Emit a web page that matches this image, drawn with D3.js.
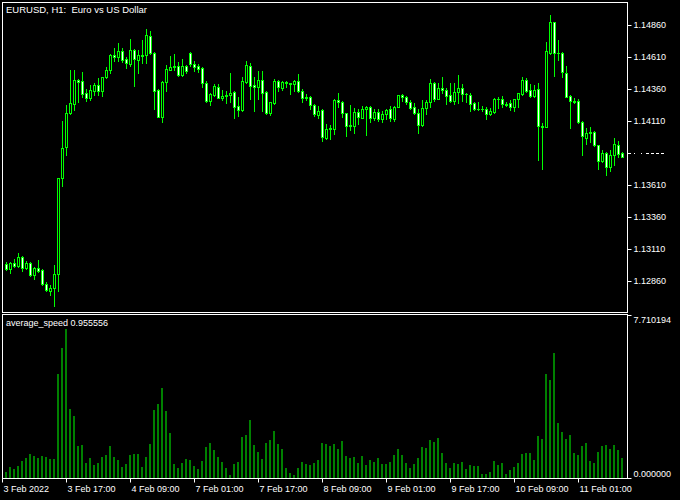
<!DOCTYPE html>
<html>
<head>
<meta charset="utf-8">
<script src="https://cdn.jsdelivr.net/npm/d3@7"></script>
<style>
  html, body { margin: 0; padding: 0; background: #000; }
  svg { display: block; }
  text { white-space: pre; }
</style>
</head>
<body>
<div id="chart"></div>
<script>
// EURUSD H1 bars, 3 Feb 02:00 .. 11 Feb 12:00 (weekend gap after index 45)
const opens = [
  1.12993, 1.12956, 1.12998, 1.12980, 1.13045, 1.12962, 1.12998, 1.12907, 1.12964, 1.12946,
  1.12834, 1.12784, 1.12803, 1.12912, 1.13662, 1.13904, 1.14170, 1.14240, 1.14430, 1.14423,
  1.14326, 1.14292, 1.14347, 1.14389, 1.14347, 1.14451, 1.14511, 1.14626, 1.14613, 1.14657,
  1.14592, 1.14555, 1.14665, 1.14587, 1.14626, 1.14626, 1.14774, 1.14644, 1.14352, 1.14144,
  1.14412, 1.14511, 1.14529, 1.14540, 1.14469, 1.14540, 1.14644, 1.14555, 1.14540, 1.14524,
  1.14410, 1.14266, 1.14313, 1.14373, 1.14292, 1.14305, 1.14313, 1.14337, 1.14227, 1.14196,
  1.14417, 1.14540, 1.14391, 1.14373, 1.14430, 1.14337, 1.14175, 1.14253, 1.14425, 1.14368,
  1.14415, 1.14404, 1.14402, 1.14423, 1.14347, 1.14300, 1.14298, 1.14232, 1.14157, 1.14196,
  1.13980, 1.14045, 1.14045, 1.14274, 1.14258, 1.14170, 1.14074, 1.14074, 1.14178, 1.14136,
  1.14201, 1.14217, 1.14136, 1.14178, 1.14123, 1.14162, 1.14201, 1.14123, 1.14222, 1.14313,
  1.14300, 1.14256, 1.14219, 1.14170, 1.14081, 1.14209, 1.14258, 1.14407, 1.14285, 1.14365,
  1.14352, 1.14313, 1.14269, 1.14334, 1.14365, 1.14321, 1.14313, 1.14248, 1.14204, 1.14201,
  1.14201, 1.14162, 1.14183, 1.14282, 1.14279, 1.14245, 1.14248, 1.14217, 1.14279, 1.14321,
  1.14430, 1.14352, 1.14308, 1.14357, 1.14074, 1.14066, 1.14639, 1.14881, 1.14639, 1.14644,
  1.14482, 1.14305, 1.14269, 1.14269, 1.14102, 1.13980, 1.14022, 1.14024, 1.13920, 1.13800,
  1.13857, 1.13753, 1.13842, 1.13923, 1.13863
];
const highs = [
  1.13006, 1.13011, 1.13029, 1.13076, 1.13055, 1.13014, 1.13008, 1.12972, 1.13024, 1.12951,
  1.12852, 1.12826, 1.12982, 1.13662, 1.14113, 1.14232, 1.14508, 1.14508, 1.14441, 1.14493,
  1.14357, 1.14391, 1.14404, 1.14443, 1.14456, 1.14534, 1.14631, 1.14678, 1.14717, 1.14678,
  1.14610, 1.14751, 1.14670, 1.14665, 1.14743, 1.14829, 1.14813, 1.14652, 1.14357, 1.14423,
  1.14548, 1.14618, 1.14634, 1.14574, 1.14592, 1.14548, 1.14652, 1.14579, 1.14553, 1.14534,
  1.14423, 1.14326, 1.14397, 1.14397, 1.14352, 1.14344, 1.14488, 1.14342, 1.14300, 1.14451,
  1.14579, 1.14561, 1.14451, 1.14503, 1.14503, 1.14342, 1.14261, 1.14436, 1.14430, 1.14420,
  1.14423, 1.14410, 1.14428, 1.14477, 1.14357, 1.14318, 1.14305, 1.14243, 1.14227, 1.14204,
  1.14087, 1.14079, 1.14282, 1.14329, 1.14266, 1.14175, 1.14232, 1.14209, 1.14204, 1.14227,
  1.14230, 1.14227, 1.14201, 1.14201, 1.14191, 1.14206, 1.14227, 1.14227, 1.14316, 1.14324,
  1.14305, 1.14274, 1.14248, 1.14204, 1.14274, 1.14274, 1.14438, 1.14412, 1.14404, 1.14454,
  1.14365, 1.14404, 1.14404, 1.14469, 1.14399, 1.14331, 1.14326, 1.14258, 1.14256, 1.14227,
  1.14217, 1.14209, 1.14292, 1.14300, 1.14305, 1.14261, 1.14274, 1.14285, 1.14331, 1.14456,
  1.14443, 1.14397, 1.14391, 1.14410, 1.14097, 1.14730, 1.14938, 1.14886, 1.14743, 1.14652,
  1.14540, 1.14313, 1.14292, 1.14282, 1.14110, 1.14053, 1.14066, 1.14029, 1.13925, 1.13883,
  1.13870, 1.13883, 1.13980, 1.13956, 1.13870
];
const lows = [
  1.12946, 1.12925, 1.12972, 1.12972, 1.12941, 1.12951, 1.12899, 1.12873, 1.12933, 1.12826,
  1.12782, 1.12748, 1.12667, 1.12784, 1.13605, 1.13847, 1.14165, 1.14196, 1.14258, 1.14300,
  1.14269, 1.14274, 1.14313, 1.14313, 1.14308, 1.14443, 1.14482, 1.14576, 1.14579, 1.14568,
  1.14527, 1.14542, 1.14386, 1.14482, 1.14561, 1.14566, 1.14634, 1.14204, 1.14139, 1.14105,
  1.14344, 1.14508, 1.14508, 1.14462, 1.14462, 1.14482, 1.14542, 1.14503, 1.14495, 1.14378,
  1.14258, 1.14235, 1.14305, 1.14287, 1.14274, 1.14248, 1.14261, 1.14136, 1.14152, 1.14191,
  1.14410, 1.14282, 1.14188, 1.14282, 1.14188, 1.14162, 1.14157, 1.14245, 1.14347, 1.14352,
  1.14373, 1.14321, 1.14347, 1.14339, 1.14258, 1.14274, 1.14204, 1.14146, 1.14131, 1.13956,
  1.13972, 1.13969, 1.14008, 1.14217, 1.14144, 1.13995, 1.14040, 1.14019, 1.14087, 1.14131,
  1.14003, 1.14105, 1.14118, 1.14113, 1.14105, 1.14126, 1.14113, 1.14110, 1.14217, 1.14266,
  1.14240, 1.14204, 1.14165, 1.14019, 1.14071, 1.14165, 1.14222, 1.14269, 1.14282, 1.14331,
  1.14243, 1.14261, 1.14243, 1.14248, 1.14269, 1.14261, 1.14191, 1.14196, 1.14196, 1.14188,
  1.14123, 1.14157, 1.14170, 1.14214, 1.14217, 1.14227, 1.14193, 1.14186, 1.14217, 1.14313,
  1.14339, 1.14300, 1.14300, 1.13805, 1.13738, 1.14061, 1.14634, 1.14464, 1.14587, 1.14456,
  1.14295, 1.14058, 1.14253, 1.14097, 1.13844, 1.13930, 1.13949, 1.13917, 1.13738, 1.13790,
  1.13688, 1.13722, 1.13764, 1.13831, 1.13826
];
const closes = [
  1.12956, 1.12998, 1.12980, 1.13045, 1.12964, 1.12998, 1.12907, 1.12964, 1.12941, 1.12834,
  1.12790, 1.12803, 1.12912, 1.13662, 1.13896, 1.14170, 1.14248, 1.14430, 1.14417, 1.14321,
  1.14292, 1.14352, 1.14391, 1.14347, 1.14451, 1.14511, 1.14626, 1.14613, 1.14654, 1.14587,
  1.14561, 1.14665, 1.14592, 1.14626, 1.14618, 1.14782, 1.14639, 1.14347, 1.14144, 1.14417,
  1.14516, 1.14529, 1.14540, 1.14469, 1.14542, 1.14501, 1.14553, 1.14534, 1.14519, 1.14404,
  1.14266, 1.14321, 1.14383, 1.14292, 1.14305, 1.14313, 1.14326, 1.14222, 1.14196, 1.14423,
  1.14548, 1.14386, 1.14373, 1.14430, 1.14331, 1.14175, 1.14256, 1.14425, 1.14373, 1.14415,
  1.14404, 1.14397, 1.14423, 1.14347, 1.14292, 1.14287, 1.14232, 1.14162, 1.14188, 1.13982,
  1.14048, 1.14055, 1.14274, 1.14261, 1.14170, 1.14074, 1.14076, 1.14178, 1.14139, 1.14204,
  1.14219, 1.14136, 1.14178, 1.14123, 1.14165, 1.14196, 1.14131, 1.14222, 1.14311, 1.14295,
  1.14256, 1.14214, 1.14170, 1.14081, 1.14209, 1.14258, 1.14407, 1.14282, 1.14365, 1.14352,
  1.14308, 1.14269, 1.14337, 1.14368, 1.14318, 1.14318, 1.14240, 1.14201, 1.14201, 1.14204,
  1.14162, 1.14188, 1.14282, 1.14285, 1.14240, 1.14238, 1.14217, 1.14279, 1.14326, 1.14430,
  1.14347, 1.14308, 1.14352, 1.14074, 1.14066, 1.14657, 1.14881, 1.14639, 1.14641, 1.14490,
  1.14300, 1.14269, 1.14261, 1.14105, 1.13993, 1.14019, 1.14019, 1.13920, 1.13800, 1.13857,
  1.13748, 1.13844, 1.13930, 1.13852, 1.13831
];
// average_speed indicator, one value per bar
const speed = [
  0.299, 0.535, 0.441, 0.582, 0.818, 0.960, 1.149, 1.054, 0.960, 1.054,
  1.007, 0.913, 0.913, 4.925, 6.152, 7.049, 3.273, 2.942, 1.526, 1.574,
  0.724, 0.960, 0.629, 0.724, 1.007, 1.101, 1.526, 1.007, 0.865, 0.535,
  0.677, 1.101, 1.149, 1.149, 0.535, 1.007, 1.621, 3.226, 3.509, 4.264,
  3.178, 2.140, 0.677, 0.488, 0.724, 0.913, 0.865, 0.582, 0.441, 0.818,
  1.479, 1.668, 1.337, 1.007, 0.771, 0.488, 0.157, 0.677, 0.771, 1.951,
  2.046, 2.754, 1.574, 1.243, 0.913, 1.668, 1.810, 2.234, 1.621, 1.385,
  0.488, 0.252, 0.157, 0.488, 0.771, 0.677, 0.629, 0.724, 0.865, 1.668,
  1.621, 1.526, 1.621, 1.385, 1.762, 1.054, 0.960, 1.007, 0.724, 1.054,
  0.629, 0.865, 0.771, 0.960, 0.677, 0.677, 0.771, 1.101, 1.385, 1.101,
  0.724, 0.488, 0.677, 0.960, 1.479, 1.432, 1.810, 1.715, 1.904, 1.196,
  0.724, 0.488, 0.724, 0.677, 0.771, 0.441, 0.629, 0.582, 0.582, 0.205,
  0.205, 0.299, 0.818, 0.629, 0.724, 0.205, 0.393, 0.535, 0.724, 1.149,
  1.196, 1.196, 0.865, 1.998, 1.857, 4.925, 4.642, 5.916, 2.612, 2.187,
  1.857, 2.046, 1.196, 1.101, 1.526, 1.668, 0.818, 0.724, 1.243, 1.526,
  1.574, 1.385, 1.574, 1.337, 0.956
];

const priceTicks = [1.14860, 1.14610, 1.14360, 1.14110, 1.13610, 1.13360, 1.13110, 1.12860];
const timeTickIdx = [-1, 15, 31, 47, 63, 79, 95, 111, 127, 143];
const timeLabels = ["3 Feb 2022", "3 Feb 17:00", "4 Feb 09:00", "7 Feb 01:00", "7 Feb 17:00",
  "8 Feb 09:00", "9 Feb 01:00", "9 Feb 17:00", "10 Feb 09:00", "11 Feb 01:00"];
const bidPrice = 1.13860;
const speedMax = 7.710194;
const speedNow = 0.955556;
const title = "EURUSD, H1:  Euro vs US Dollar";
const indicatorName = "average_speed";

const width = 680, height = 500;
const left = 2, right = 627;
const main = { top: 2, bottom: 312 };
const sub = { top: 315, bottom: 478 };
const font = "'Liberation Sans', Arial, sans-serif";
const lime = "#00ff00";

const svg = d3.select("#chart").append("svg")
  .attr("width", width)
  .attr("height", height)
  .style("background", "#000")
  .attr("font-family", font)
  .attr("font-size", 9);

const bars = d3.range(opens.length);
const x = d3.scaleLinear().domain([0, bars.length - 1]).range([6, 622]);
const y = d3.scaleLinear().domain([1.12618, 1.15040]).range([main.bottom, main.top]);
const v = d3.scaleLinear().domain([0, speedMax]).range([sub.bottom, sub.top]);

const py = (p) => Math.round(y(p));

svg.append("defs").append("clipPath").attr("id", "clipMain")
  .append("rect").attr("x", left + 1).attr("y", main.top + 1)
  .attr("width", right - left - 1).attr("height", main.bottom - main.top - 1);

// candles: wick, outline body, then hollow (bull) or white (bear) core
const candles = svg.append("g").attr("clip-path", "url(#clipMain)")
  .selectAll("g").data(bars).join("g");

candles.append("rect")
  .attr("x", (i) => x(i))
  .attr("y", (i) => py(highs[i]))
  .attr("width", 1)
  .attr("height", (i) => py(lows[i]) - py(highs[i]) + 1)
  .attr("fill", lime);

candles.append("rect")
  .attr("x", (i) => x(i) - 1)
  .attr("y", (i) => Math.min(py(opens[i]), py(closes[i])))
  .attr("width", 3)
  .attr("height", (i) => Math.abs(py(opens[i]) - py(closes[i])) + 1)
  .attr("fill", lime);

candles.filter((i) => Math.abs(py(opens[i]) - py(closes[i])) >= 2)
  .append("rect")
  .attr("x", (i) => x(i))
  .attr("y", (i) => Math.min(py(opens[i]), py(closes[i])) + 1)
  .attr("width", 1)
  .attr("height", (i) => Math.abs(py(opens[i]) - py(closes[i])) - 1)
  .attr("fill", (i) => (closes[i] >= opens[i] ? "#000" : "#fff"));

// histogram
svg.append("g").selectAll("rect").data(bars).join("rect")
  .attr("x", (i) => x(i) - 1)
  .attr("y", (i) => Math.round(v(speed[i])))
  .attr("width", 2)
  .attr("height", (i) => sub.bottom - Math.round(v(speed[i])))
  .attr("fill", "#008000");

// panel frames
svg.append("rect").attr("x", left + 0.5).attr("y", main.top + 0.5)
  .attr("width", right - left).attr("height", main.bottom - main.top)
  .attr("fill", "none").attr("stroke", "#fff");
svg.append("rect").attr("x", left + 0.5).attr("y", sub.top - 0.5)
  .attr("width", right - left).attr("height", sub.bottom - sub.top + 1)
  .attr("fill", "none").attr("stroke", "#fff");

function styleAxis(g) {
  g.select(".domain").remove();
  g.selectAll("line").attr("stroke", "#fff");
  g.selectAll("text").attr("fill", "#fff").attr("font-family", font).attr("font-size", 9);
}

// price axis
svg.append("g")
  .attr("transform", `translate(${right + 0.5},0)`)
  .call(d3.axisRight(y).tickValues(priceTicks).tickSize(4).tickPadding(2)
    .tickFormat(d3.format(".5f")).offset(0))
  .call(styleAxis)
  .call((g) => g.selectAll(".tick").attr("transform", (d) => `translate(0,${py(d) + 0.5})`));

// bid marker
svg.append("line")
  .attr("x1", right).attr("x2", right + 4)
  .attr("y1", py(bidPrice) + 0.5).attr("y2", py(bidPrice) + 0.5)
  .attr("stroke", "#fff");
svg.append("line")
  .attr("x1", 634).attr("x2", 665)
  .attr("y1", py(bidPrice) + 0.5).attr("y2", py(bidPrice) + 0.5)
  .attr("stroke", "#fff")
  .attr("stroke-dasharray", "1,6,1,4,3,2,3,2,3,2,3,40");

// indicator axis
const vAxis = svg.append("g")
  .attr("transform", `translate(${right + 0.5},0)`)
  .call(d3.axisRight(v).tickValues([speedMax, 0]).tickSize(4).tickPadding(2)
    .tickFormat(d3.format(".6f")).offset(0))
  .call(styleAxis);
vAxis.selectAll(".tick").attr("transform", (d) => `translate(0,${Math.round(v(d)) + 0.5})`);
vAxis.selectAll(".tick text").attr("dy", (d) => (d > 0 ? "0.85em" : "-0.2em"));

// time axis
svg.append("g")
  .attr("transform", `translate(0,${sub.bottom + 0.5})`)
  .call(d3.axisBottom(x).tickValues(timeTickIdx).tickSize(4).tickPadding(3)
    .tickFormat((d, i) => timeLabels[i]).offset(0))
  .call(styleAxis)
  .call((g) => g.selectAll(".tick").attr("transform", (d) => `translate(${x(d) + 0.5},0)`))
  .call((g) => g.selectAll(".tick text").attr("text-anchor", "start").attr("x", 1));

// labels
svg.append("text").attr("x", 6).attr("y", 13)
  .attr("fill", "#fff").attr("font-size", 9.5).text(title);
svg.append("text").attr("x", 6).attr("y", 326)
  .attr("fill", "#fff").text(`${indicatorName} ${speedNow.toFixed(6)}`);
</script>
</body>
</html>
